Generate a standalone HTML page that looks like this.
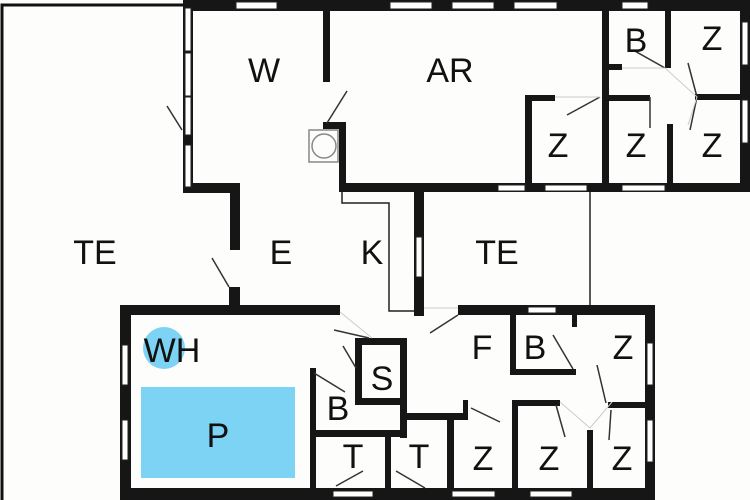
<!DOCTYPE html>
<html><head><style>
html,body{margin:0;padding:0;background:#fdfdfb;}
svg{display:block;}
text{font-family:"Liberation Sans",sans-serif;font-size:34px;fill:#111;text-anchor:middle;}
</style></head><body>
<svg width="750" height="500" viewBox="0 0 750 500" xmlns="http://www.w3.org/2000/svg">
<rect width="750" height="500" fill="#fdfdfb"/>
<g fill="none" stroke="#111" stroke-width="3">
<polyline points="185,5 2,5 2,500"/>
</g>
<g fill="none" stroke="#222" stroke-width="1.5">
<polyline points="342,190 342,203 389,203 389,311 414,311"/>
<line x1="590" y1="192" x2="590" y2="306"/>
<rect x="309" y="130" width="29" height="32" stroke="#888"/>
<circle cx="324" cy="146" r="12" stroke="#888"/>
</g>
<g fill="#161616">
<rect x="183" y="0" width="567" height="11"/>
<rect x="740" y="0" width="10" height="192"/>
<rect x="183" y="0" width="10" height="193"/>
<rect x="183" y="183" width="57" height="10"/>
<rect x="230" y="183" width="10" height="67"/>
<rect x="229" y="287" width="11" height="28"/>
<rect x="323" y="10" width="7" height="72"/>
<rect x="323" y="122" width="22" height="7"/>
<rect x="339" y="122" width="7" height="70"/>
<rect x="339" y="183" width="401" height="9"/>
<rect x="414" y="183" width="10" height="133"/>
<rect x="525" y="95" width="7" height="95"/>
<rect x="525" y="95" width="30" height="6"/>
<rect x="602" y="10" width="7" height="180"/>
<rect x="602" y="64" width="20" height="6"/>
<rect x="665" y="10" width="6" height="58"/>
<rect x="608" y="95" width="42" height="6"/>
<rect x="667" y="124" width="6" height="66"/>
<rect x="695" y="94" width="45" height="6"/>
<rect x="120" y="305" width="220" height="10"/>
<rect x="458" y="305" width="197" height="10"/>
<rect x="645" y="305" width="10" height="195"/>
<rect x="120" y="305" width="11" height="195"/>
<rect x="120" y="488" width="535" height="12"/>
<rect x="355" y="338" width="51" height="7"/>
<rect x="355" y="345" width="7" height="60"/>
<rect x="355" y="398" width="51" height="7"/>
<rect x="400" y="338" width="7" height="100"/>
<rect x="310" y="368" width="6" height="125"/>
<rect x="310" y="430" width="97" height="7"/>
<rect x="385" y="435" width="6" height="60"/>
<rect x="400" y="413" width="68" height="7"/>
<rect x="463" y="400" width="5" height="20"/>
<rect x="447" y="413" width="7" height="85"/>
<rect x="510" y="315" width="6" height="60"/>
<rect x="510" y="369" width="66" height="6"/>
<rect x="572" y="315" width="5" height="12"/>
<rect x="512" y="400" width="48" height="6"/>
<rect x="512" y="400" width="6" height="95"/>
<rect x="587" y="430" width="6" height="65"/>
<rect x="608" y="402" width="40" height="6"/>
</g>
<g fill="#fff" stroke="#222" stroke-width="1">
<rect x="236" y="2" width="41" height="7"/>
<rect x="390" y="2" width="42" height="7"/>
<rect x="452" y="2" width="42" height="7"/>
<rect x="514" y="2" width="43" height="7"/>
<rect x="622" y="2" width="26" height="7"/>
<rect x="742" y="22" width="6" height="43"/>
<rect x="742" y="100" width="6" height="43"/>
<rect x="185" y="8" width="6" height="43"/>
<rect x="185" y="53" width="6" height="43"/>
<rect x="185" y="97" width="6" height="38"/>
<rect x="185" y="145" width="6" height="42"/>
<rect x="498" y="185" width="27" height="6"/>
<rect x="545" y="185" width="42" height="6"/>
<rect x="622" y="185" width="43" height="6"/>
<rect x="416" y="237" width="6" height="40"/>
<rect x="528" y="307" width="28" height="6"/>
<rect x="647" y="343" width="6" height="42"/>
<rect x="647" y="420" width="6" height="42"/>
<rect x="122" y="345" width="6" height="40"/>
<rect x="122" y="420" width="6" height="40"/>
<rect x="333" y="491" width="40" height="6"/>
<rect x="452" y="491" width="43" height="6"/>
<rect x="530" y="491" width="42" height="6"/>
</g>
<g stroke="#333" stroke-width="1.5">
<line x1="167" y1="106" x2="182" y2="130"/>
<line x1="327" y1="123" x2="347" y2="91"/>
<line x1="212" y1="258" x2="229" y2="287"/>
<line x1="600" y1="97" x2="567" y2="115"/>
<line x1="633" y1="50" x2="665" y2="68"/>
<line x1="688" y1="63" x2="697" y2="97"/>
<line x1="697" y1="97" x2="690" y2="130"/>
<line x1="650" y1="97" x2="650" y2="128"/>
<line x1="334" y1="330" x2="369" y2="338"/>
<line x1="343" y1="346" x2="356" y2="368"/>
<line x1="314" y1="373" x2="345" y2="392"/>
<line x1="430" y1="333" x2="458" y2="315"/>
<line x1="471" y1="408" x2="500" y2="422"/>
<line x1="553" y1="335" x2="573" y2="369"/>
<line x1="597" y1="365" x2="606" y2="403"/>
<line x1="556" y1="405" x2="565" y2="437"/>
<line x1="611" y1="410" x2="609" y2="440"/>
<line x1="336" y1="486" x2="363" y2="471"/>
<line x1="396" y1="471" x2="425" y2="488"/>
</g>
<g stroke="#ccc" stroke-width="1" fill="none">
<polyline points="622,68 665,68 697,97 688,125"/>
<line x1="555" y1="97" x2="600" y2="97"/>
<line x1="340" y1="312" x2="372" y2="338"/>
<line x1="424" y1="308" x2="458" y2="308"/>
<polyline points="560,402 590,428 612,402"/>
</g>
<circle cx="164" cy="348" r="21" fill="#7dd3f3"/>
<rect x="141" y="387" width="154" height="91" fill="#7dd3f3"/>
<text x="264" y="82">W</text>
<text x="450" y="82">AR</text>
<text x="636" y="52">B</text>
<text x="712" y="50">Z</text>
<text x="558" y="157">Z</text>
<text x="636" y="157">Z</text>
<text x="712" y="157">Z</text>
<text x="95" y="264">TE</text>
<text x="281" y="264">E</text>
<text x="372" y="264">K</text>
<text x="497" y="264">TE</text>
<text x="482" y="359">F</text>
<text x="535" y="359">B</text>
<text x="623" y="359">Z</text>
<text x="172" y="362">WH</text>
<text x="382" y="390">S</text>
<text x="338" y="420">B</text>
<text x="218" y="447">P</text>
<text x="353" y="468">T</text>
<text x="419" y="468">T</text>
<text x="483" y="470">Z</text>
<text x="549" y="470">Z</text>
<text x="622" y="470">Z</text>
</svg>
</body></html>
